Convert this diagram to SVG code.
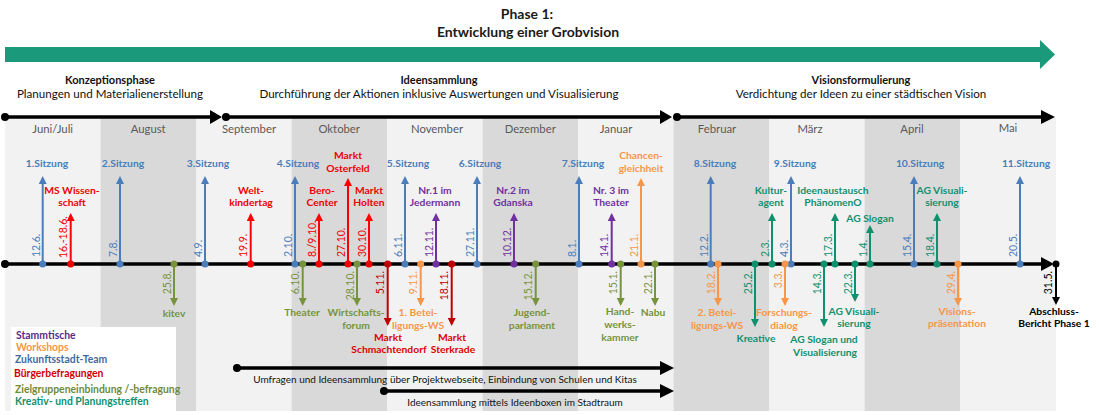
<svg xmlns="http://www.w3.org/2000/svg" width="1099" height="415" viewBox="0 0 1099 415">
<style>
text{font-family:Lato,"Liberation Sans",sans-serif}
.mo{font-size:11.3px;fill:#595959;text-anchor:middle}
.ti{font-size:14px;font-weight:bold;fill:#1a1a1a;text-anchor:middle}
.ph{font-size:11px;font-weight:bold;fill:#111;text-anchor:middle}
.ps{font-size:11.6px;fill:#111;text-anchor:middle}
.lb{font-size:10.3px;font-weight:bold;text-anchor:middle}
.d{font-size:10.5px}
.de{text-anchor:end}
.lg{font-size:10.4px;font-weight:bold}
.bt{font-size:10px;fill:#111;text-anchor:middle}
.ev line{stroke-width:2;fill:none}
.B line{stroke:#4a7dba}.B circle,.B text{fill:#4a7dba}
.R line{stroke:#ff0000}.R circle,.R text{fill:#f00000}
.DR line{stroke:#c00000}.DR circle,.DR .d{fill:#c00000}.DR .lb{fill:#e00000}
.P line{stroke:#7030a0}.P circle,.P text{fill:#7030a0}
.O line{stroke:#77933c}.O circle,.O text{fill:#77933c}
.Or line{stroke:#f79646}.Or circle,.Or text{fill:#f79646}
.T line{stroke:#11906e}.T circle,.T text{fill:#11906e}
.K line{stroke:#000}.K circle,.K text{fill:#000}
.bl{stroke:#000;stroke-width:3.5;fill:none}
.light{fill:#f2f2f2}.dark{fill:#d9d9d9}
</style>
<defs>
<marker id="mB" viewBox="0 0 10 10" refX="7" refY="5" markerWidth="8" markerHeight="8" markerUnits="userSpaceOnUse" orient="auto"><path d="M0,0L10,5L0,10z" fill="#4a7dba"/></marker>
<marker id="mR" viewBox="0 0 10 10" refX="7" refY="5" markerWidth="8" markerHeight="8" markerUnits="userSpaceOnUse" orient="auto"><path d="M0,0L10,5L0,10z" fill="#ff0000"/></marker>
<marker id="mDR" viewBox="0 0 10 10" refX="7" refY="5" markerWidth="8" markerHeight="8" markerUnits="userSpaceOnUse" orient="auto"><path d="M0,0L10,5L0,10z" fill="#c00000"/></marker>
<marker id="mP" viewBox="0 0 10 10" refX="7" refY="5" markerWidth="8" markerHeight="8" markerUnits="userSpaceOnUse" orient="auto"><path d="M0,0L10,5L0,10z" fill="#7030a0"/></marker>
<marker id="mO" viewBox="0 0 10 10" refX="7" refY="5" markerWidth="8" markerHeight="8" markerUnits="userSpaceOnUse" orient="auto"><path d="M0,0L10,5L0,10z" fill="#77933c"/></marker>
<marker id="mOr" viewBox="0 0 10 10" refX="7" refY="5" markerWidth="8" markerHeight="8" markerUnits="userSpaceOnUse" orient="auto"><path d="M0,0L10,5L0,10z" fill="#f79646"/></marker>
<marker id="mT" viewBox="0 0 10 10" refX="7" refY="5" markerWidth="8" markerHeight="8" markerUnits="userSpaceOnUse" orient="auto"><path d="M0,0L10,5L0,10z" fill="#11906e"/></marker>
<marker id="mK" viewBox="0 0 10 10" refX="7" refY="5" markerWidth="8" markerHeight="8" markerUnits="userSpaceOnUse" orient="auto"><path d="M0,0L10,5L0,10z" fill="#000"/></marker>
</defs>
<rect width="1099" height="415" fill="#fff"/>
<g id="months">
<rect class="light" x="5" y="118" width="95.5" height="293"/>
<rect class="dark" x="100.5" y="118" width="95.5" height="293"/>
<rect class="light" x="196" y="118" width="95.5" height="293"/>
<rect class="dark" x="291.5" y="118" width="95.5" height="293"/>
<rect class="light" x="387" y="118" width="95.5" height="293"/>
<rect class="dark" x="482.5" y="118" width="95.5" height="293"/>
<rect class="light" x="578" y="118" width="95.5" height="293"/>
<rect class="dark" x="673.5" y="118" width="95.5" height="293"/>
<rect class="light" x="769" y="118" width="95.5" height="293"/>
<rect class="dark" x="864.5" y="118" width="95.5" height="293"/>
<rect class="light" x="960" y="118" width="96" height="293"/>
<text class="mo" x="52.7" y="133">Juni/Juli</text>
<text class="mo" x="148.2" y="133">August</text>
<text class="mo" x="249" y="133">September</text>
<text class="mo" x="339.2" y="133">Oktober</text>
<text class="mo" x="437" y="133">November</text>
<text class="mo" x="530.2" y="133">Dezember</text>
<text class="mo" x="616" y="133">Januar</text>
<text class="mo" x="717" y="133">Februar</text>
<text class="mo" x="810" y="133">März</text>
<text class="mo" x="912" y="133">April</text>
<text class="mo" x="1008" y="132">Mai</text>
</g>
<g id="title">
<text class="ti" x="527" y="18.5">Phase 1:</text>
<text class="ti" x="528" y="36.5">Entwicklung einer Grobvision</text>
<polygon points="5,47 1040,47 1040,40 1055,54.5 1040,69 1040,62 5,62" fill="#1a9a7a"/>
</g>
<g id="phase-konzeption">
<text class="ph" x="110" y="84">Konzeptionsphase</text>
<text class="ps" x="110" y="98">Planungen und Materialienerstellung</text>
</g>
<g id="phase-ideen">
<text class="ph" x="439" y="84">Ideensammlung</text>
<text class="ps" x="439" y="98">Durchführung der Aktionen inklusive Auswertungen und Visualisierung</text>
</g>
<g id="phase-vision">
<text class="ph" x="861" y="84">Visionsformulierung</text>
<text class="ps" x="861" y="98">Verdichtung der Ideen zu einer städtischen Vision</text>
</g>
<g id="connectors">
<line class="bl" x1="5" y1="117" x2="213" y2="117"/>
<polygon points="210,110 222,117 210,124"/>
<circle cx="5" cy="117" r="4"/>
<line class="bl" x1="226" y1="117" x2="662" y2="117"/>
<polygon points="660,110 672,117 660,124"/>
<circle cx="226" cy="117" r="4"/>
<line class="bl" x1="677" y1="117" x2="1044" y2="117"/>
<polygon points="1041,110 1055,117 1041,124"/>
<circle cx="677" cy="117" r="4"/>
<line class="bl" x1="5" y1="264" x2="1044" y2="264"/>
<polygon points="1041,257 1054,264 1041,271"/>
<circle cx="5" cy="264" r="4"/>
<line class="bl" x1="237" y1="368" x2="662" y2="368"/>
<polygon points="660,361 674,368 660,375"/>
<circle cx="237" cy="368" r="4"/>
<line class="bl" x1="384" y1="391" x2="662" y2="391"/>
<polygon points="660,384 674,391 660,398"/>
<circle cx="384" cy="391" r="4"/>
</g>
<g id="bottom-labels">
<text class="bt" x="445" y="382.5">Umfragen und Ideensammlung über Projektwebseite, Einbindung von Schulen und Kitas</text>
<text class="bt" x="515" y="405.5">Ideensammlung mittels Ideenboxen im Stadtraum</text>
</g>
<g id="legend">
<rect x="11" y="327" width="165" height="84" fill="#fff"/>
<text class="lg" x="16" y="338.5" fill="#5b2c86">Stammtische</text>
<text class="lg" x="16" y="350.5" fill="#f79646">Workshops</text>
<text class="lg" x="15" y="362.5" fill="#3f6aa0">Zukunftsstadt-Team</text>
<text class="lg" x="14" y="376.5" fill="#d00000">Bürgerbefragungen</text>
<text class="lg" x="15" y="392.5" fill="#6f8a36">Zielgruppeneinbindung /-befragung</text>
<text class="lg" x="15" y="404.5" fill="#11906e">Kreativ- und Planungstreffen</text>
</g>
<g id="events">
<g id="ev-12-6" class="ev B"><line x1="42.7" y1="264" x2="42.7" y2="178.4" marker-end="url(#mB)"/><circle cx="42.7" cy="264" r="3.5"/><text class="d" transform="translate(39.7,257) rotate(-90)">12.6.</text><text class="lb" x="47" y="166.5">1.Sitzung</text></g>
<g id="ev-7-8" class="ev B"><line x1="120" y1="264" x2="120" y2="178.4" marker-end="url(#mB)"/><circle cx="120" cy="264" r="3.5"/><text class="d" transform="translate(117,257) rotate(-90)">7.8.</text><text class="lb" x="123" y="166.5">2.Sitzung</text></g>
<g id="ev-4-9" class="ev B"><line x1="205" y1="264" x2="205" y2="178.4" marker-end="url(#mB)"/><circle cx="205" cy="264" r="3.5"/><text class="d" transform="translate(202,257) rotate(-90)">4.9.</text><text class="lb" x="208" y="166.5">3.Sitzung</text></g>
<g id="ev-2-10" class="ev B"><line x1="295" y1="264" x2="295" y2="178.4" marker-end="url(#mB)"/><circle cx="295" cy="264" r="3.5"/><text class="d" transform="translate(292,257) rotate(-90)">2.10.</text><text class="lb" x="298" y="166.5">4.Sitzung</text></g>
<g id="ev-6-11" class="ev B"><line x1="405" y1="264" x2="405" y2="178.4" marker-end="url(#mB)"/><circle cx="405" cy="264" r="3.5"/><text class="d" transform="translate(402,257) rotate(-90)">6.11.</text><text class="lb" x="408" y="166.5">5.Sitzung</text></g>
<g id="ev-27-11" class="ev B"><line x1="477" y1="264" x2="477" y2="178.4" marker-end="url(#mB)"/><circle cx="477" cy="264" r="3.5"/><text class="d" transform="translate(474,257) rotate(-90)">27.11.</text><text class="lb" x="480" y="166.5">6.Sitzung</text></g>
<g id="ev-8-1" class="ev B"><line x1="579" y1="264" x2="579" y2="178.4" marker-end="url(#mB)"/><circle cx="579" cy="264" r="3.5"/><text class="d" transform="translate(576,257) rotate(-90)">8.1.</text><text class="lb" x="583" y="166.5">7.Sitzung</text></g>
<g id="ev-12-2" class="ev B"><line x1="710.7" y1="264" x2="710.7" y2="178.4" marker-end="url(#mB)"/><circle cx="710.7" cy="264" r="3.5"/><text class="d" transform="translate(707.7,257) rotate(-90)">12.2.</text><text class="lb" x="715" y="166.5">8.Sitzung</text></g>
<g id="ev-4-3" class="ev B"><line x1="791" y1="264" x2="791" y2="178.4" marker-end="url(#mB)"/><circle cx="791" cy="264" r="3.5"/><text class="d" transform="translate(788,257) rotate(-90)">4.3.</text><text class="lb" x="795" y="166.5">9.Sitzung</text></g>
<g id="ev-15-4" class="ev B"><line x1="914" y1="264" x2="914" y2="178.4" marker-end="url(#mB)"/><circle cx="914" cy="264" r="3.5"/><text class="d" transform="translate(911,257) rotate(-90)">15.4.</text><text class="lb" x="920" y="166.5">10.Sitzung</text></g>
<g id="ev-20-5" class="ev B"><line x1="1020" y1="264" x2="1020" y2="178.4" marker-end="url(#mB)"/><circle cx="1020" cy="264" r="3.5"/><text class="d" transform="translate(1017,257) rotate(-90)">20.5.</text><text class="lb" x="1026" y="166.5">11.Sitzung</text></g>
<g id="ev-16-6" class="ev R"><line x1="70.7" y1="264" x2="70.7" y2="215.4" marker-end="url(#mR)"/><circle cx="70.7" cy="264" r="3.5"/><text class="d" transform="translate(67.2,258) rotate(-90)">16.-18.6.</text><text class="lb" x="72" y="193.5">MS Wissen-</text><text class="lb" x="72" y="205.5">schaft</text></g>
<g id="ev-19-9" class="ev R"><line x1="250.7" y1="264" x2="250.7" y2="215.4" marker-end="url(#mR)"/><circle cx="250.7" cy="264" r="3.5"/><text class="d" transform="translate(247.2,257) rotate(-90)">19.9.</text><text class="lb" x="251" y="193.5">Welt-</text><text class="lb" x="251" y="205.5">kindertag</text></g>
<g id="ev-8-10" class="ev R"><line x1="319" y1="264" x2="319" y2="215.4" marker-end="url(#mR)"/><circle cx="319" cy="264" r="3.5"/><text class="d" transform="translate(315.5,257) rotate(-90)">8./9.10.</text><text class="lb" x="322" y="193.5">Bero-</text><text class="lb" x="322" y="205.5">Center</text></g>
<g id="ev-27-10" class="ev R"><line x1="348" y1="264" x2="348" y2="180.4" marker-end="url(#mR)"/><circle cx="348" cy="264" r="3.5"/><text class="d" transform="translate(344.5,257) rotate(-90)">27.10.</text><text class="lb" x="348" y="158.5">Markt</text><text class="lb" x="348" y="171.5">Osterfeld</text></g>
<g id="ev-30-10" class="ev R"><line x1="369" y1="264" x2="369" y2="215.4" marker-end="url(#mR)"/><circle cx="369" cy="264" r="3.5"/><text class="d" transform="translate(365.5,257) rotate(-90)">30.10.</text><text class="lb" x="369" y="193.5">Markt</text><text class="lb" x="369" y="205.5">Holten</text></g>
<g id="ev-5-11" class="ev DR"><line x1="387.7" y1="264" x2="387.7" y2="323.6" marker-end="url(#mDR)"/><circle cx="387.7" cy="264" r="3.5"/><text class="d de" transform="translate(384.2,271) rotate(-90)">5.11.</text><text class="lb" x="388" y="340.5">Markt</text><text class="lb" x="389" y="352.5">Schmachtendorf</text></g>
<g id="ev-18-11" class="ev DR"><line x1="451.7" y1="264" x2="451.7" y2="323.6" marker-end="url(#mDR)"/><circle cx="451.7" cy="264" r="3.5"/><text class="d de" transform="translate(448.2,271) rotate(-90)">18.11.</text><text class="lb" x="452" y="340.5">Markt</text><text class="lb" x="453" y="352.5">Sterkrade</text></g>
<g id="ev-12-11" class="ev P"><line x1="436" y1="264" x2="436" y2="215.4" marker-end="url(#mP)"/><circle cx="436" cy="264" r="3.5"/><text class="d" transform="translate(432.5,257) rotate(-90)">12.11.</text><text class="lb" x="435" y="193.5">Nr.1 im</text><text class="lb" x="435" y="205.5">Jedermann</text></g>
<g id="ev-10-12" class="ev P"><line x1="514" y1="264" x2="514" y2="215.4" marker-end="url(#mP)"/><circle cx="514" cy="264" r="3.5"/><text class="d" transform="translate(510.5,257) rotate(-90)">10.12.</text><text class="lb" x="513" y="193.5">Nr.2 im</text><text class="lb" x="513" y="205.5">Gdanska</text></g>
<g id="ev-14-1" class="ev P"><line x1="611.7" y1="264" x2="611.7" y2="215.4" marker-end="url(#mP)"/><circle cx="611.7" cy="264" r="3.5"/><text class="d" transform="translate(608.2,257) rotate(-90)">14.1.</text><text class="lb" x="611" y="193.5">Nr. 3 im</text><text class="lb" x="611" y="205.5">Theater</text></g>
<g id="ev-25-8" class="ev O"><line x1="174" y1="264" x2="174" y2="303.6" marker-end="url(#mO)"/><circle cx="174" cy="264" r="3.5"/><text class="d de" transform="translate(170.5,271) rotate(-90)">25.8.</text><text class="lb" x="174" y="316.5">kitev</text></g>
<g id="ev-6-10" class="ev O"><line x1="302.7" y1="264" x2="302.7" y2="303.6" marker-end="url(#mO)"/><circle cx="302.7" cy="264" r="3.5"/><text class="d de" transform="translate(299.2,271) rotate(-90)">6.10.</text><text class="lb" x="302" y="315.5">Theater</text></g>
<g id="ev-28-10" class="ev O"><line x1="357" y1="264" x2="357" y2="303.6" marker-end="url(#mO)"/><circle cx="357" cy="264" r="3.5"/><text class="d de" transform="translate(353.5,271) rotate(-90)">28.10.</text><text class="lb" x="356" y="315.5">Wirtschafts-</text><text class="lb" x="356" y="328.5">forum</text></g>
<g id="ev-15-12" class="ev O"><line x1="535.7" y1="264" x2="535.7" y2="303.6" marker-end="url(#mO)"/><circle cx="535.7" cy="264" r="3.5"/><text class="d de" transform="translate(532.2,271) rotate(-90)">15.12.</text><text class="lb" x="532" y="315.5">Jugend-</text><text class="lb" x="532" y="328.5">parlament</text></g>
<g id="ev-15-1" class="ev O"><line x1="620.7" y1="264" x2="620.7" y2="303.6" marker-end="url(#mO)"/><circle cx="620.7" cy="264" r="3.5"/><text class="d de" transform="translate(617.2,271) rotate(-90)">15.1.</text><text class="lb" x="620" y="314.5">Hand-</text><text class="lb" x="620" y="327.5">werks-</text><text class="lb" x="620" y="340.5">kammer</text></g>
<g id="ev-22-1" class="ev O"><line x1="655" y1="264" x2="655" y2="303.6" marker-end="url(#mO)"/><circle cx="655" cy="264" r="3.5"/><text class="d de" transform="translate(651.5,271) rotate(-90)">22.1.</text><text class="lb" x="653" y="315.5">Nabu</text></g>
<g id="ev-9-11" class="ev Or"><line x1="420.7" y1="264" x2="420.7" y2="303.6" marker-end="url(#mOr)"/><circle cx="420.7" cy="264" r="3.5"/><text class="d de" transform="translate(417.2,271) rotate(-90)">9.11.</text><text class="lb" x="418" y="315.5">1. Betei-</text><text class="lb" x="418" y="328.5">ligungs-WS</text></g>
<g id="ev-21-1" class="ev Or"><line x1="641" y1="264" x2="641" y2="180.4" marker-end="url(#mOr)"/><circle cx="641" cy="264" r="3.5"/><text class="d" transform="translate(637.5,257) rotate(-90)">21.1.</text><text class="lb" x="641" y="158.5">Chancen-</text><text class="lb" x="641" y="171.5">gleichheit</text></g>
<g id="ev-18-2" class="ev Or"><line x1="718" y1="264" x2="718" y2="303.6" marker-end="url(#mOr)"/><circle cx="718" cy="264" r="3.5"/><text class="d de" transform="translate(714.5,271) rotate(-90)">18.2.</text><text class="lb" x="717" y="315.5">2. Betei-</text><text class="lb" x="717" y="328.5">ligungs-WS</text></g>
<g id="ev-3-3" class="ev Or"><line x1="785" y1="264" x2="785" y2="303.6" marker-end="url(#mOr)"/><circle cx="785" cy="264" r="3.5"/><text class="d de" transform="translate(781.5,271) rotate(-90)">3.3.</text><text class="lb" x="784" y="315.5">Forschungs-</text><text class="lb" x="784" y="328.5">dialog</text></g>
<g id="ev-29-4" class="ev Or"><line x1="958" y1="264" x2="958" y2="303.6" marker-end="url(#mOr)"/><circle cx="958" cy="264" r="3.5"/><text class="d de" transform="translate(954.5,271) rotate(-90)">29.4.</text><text class="lb" x="957" y="314.5">Visions-</text><text class="lb" x="957" y="326.5">präsentation</text></g>
<g id="ev-25-2" class="ev T"><line x1="755" y1="264" x2="755" y2="324.6" marker-end="url(#mT)"/><circle cx="755" cy="264" r="3.5"/><text class="d de" transform="translate(751.5,271) rotate(-90)">25.2.</text><text class="lb" x="756" y="341.5">Kreative</text></g>
<g id="ev-2-3" class="ev T"><line x1="772" y1="264" x2="772" y2="215.4" marker-end="url(#mT)"/><circle cx="772" cy="264" r="3.5"/><text class="d" transform="translate(768.5,257) rotate(-90)">2.3.</text><text class="lb" x="771" y="193.5">Kultur-</text><text class="lb" x="771" y="205.5">agent</text></g>
<g id="ev-14-3" class="ev T"><line x1="824" y1="264" x2="824" y2="324.6" marker-end="url(#mT)"/><circle cx="824" cy="264" r="3.5"/><text class="d de" transform="translate(820.5,271) rotate(-90)">14.3.</text><text class="lb" x="824" y="342.5">AG Slogan und</text><text class="lb" x="825" y="355.5">Visualisierung</text></g>
<g id="ev-17-3" class="ev T"><line x1="835" y1="264" x2="835" y2="215.4" marker-end="url(#mT)"/><circle cx="835" cy="264" r="3.5"/><text class="d" transform="translate(831.5,257) rotate(-90)">17.3.</text><text class="lb" x="833" y="193.5">Ideenaustausch</text><text class="lb" x="833" y="205.5">PhänomenO</text></g>
<g id="ev-22-3" class="ev T"><line x1="855" y1="264" x2="855" y2="299.6" marker-end="url(#mT)"/><circle cx="855" cy="264" r="3.5"/><text class="d de" transform="translate(851.5,271) rotate(-90)">22.3.</text><text class="lb" x="854" y="314.5">AG Visuali-</text><text class="lb" x="854" y="326.5">sierung</text></g>
<g id="ev-1-4" class="ev T"><line x1="870" y1="264" x2="870" y2="227.4" marker-end="url(#mT)"/><circle cx="870" cy="264" r="3.5"/><text class="d" transform="translate(866.5,257) rotate(-90)">1.4.</text><text class="lb" x="870" y="221.5">AG Slogan</text></g>
<g id="ev-18-4" class="ev T"><line x1="937" y1="264" x2="937" y2="215.4" marker-end="url(#mT)"/><circle cx="937" cy="264" r="3.5"/><text class="d" transform="translate(933.5,257) rotate(-90)">18.4.</text><text class="lb" x="942" y="193.5">AG Visuali-</text><text class="lb" x="942" y="205.5">sierung</text></g>
<g id="ev-31-5" class="ev K"><line x1="1056" y1="264" x2="1056" y2="302.6" marker-end="url(#mK)"/><circle cx="1056" cy="264" r="3.5"/><text class="d de" transform="translate(1052,271) rotate(-90)">31.5.</text><text class="lb" x="1054" y="314.5">Abschluss-</text><text class="lb" x="1054" y="326.5">Bericht Phase 1</text></g>
</g>
</svg>
